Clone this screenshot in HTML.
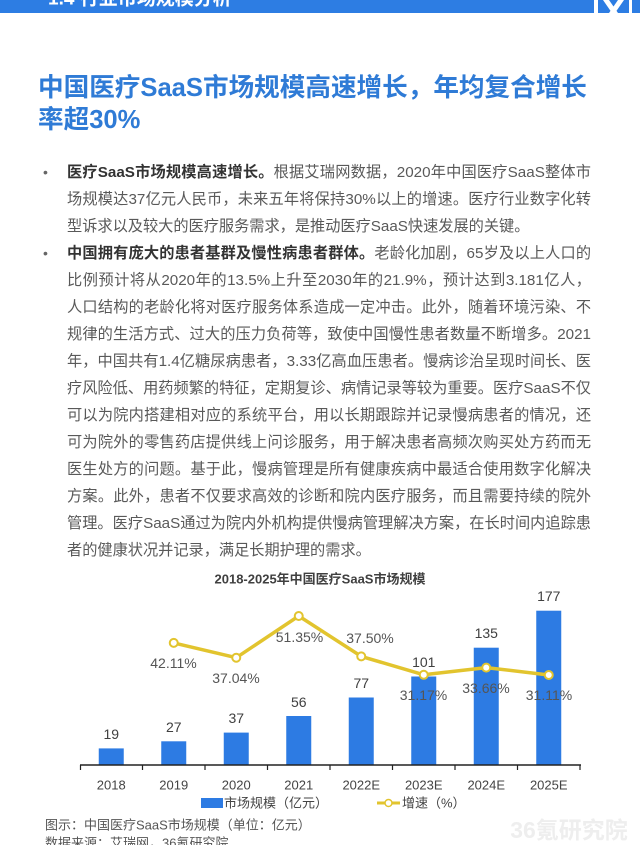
<!DOCTYPE html>
<html><head><meta charset="utf-8"><style>
html,body{margin:0;padding:0;background:#fff;}
body{width:640px;height:845px;position:relative;overflow:hidden;font-family:"Liberation Sans","Noto Sans CJK SC",sans-serif;}
.t{position:absolute;left:38px;font-size:25.6px;font-weight:bold;color:#2f7bd6;line-height:32px;white-space:nowrap;letter-spacing:0;}
.l{position:absolute;left:67px;width:524px;font-size:15.2px;line-height:27px;height:27px;color:#595959;text-align:justify;text-align-last:justify;}
.l.e{text-align-last:left;}
.l b{color:#333;}
.bu{position:absolute;left:43px;font-size:14px;line-height:27px;color:#666;}
svg{position:absolute;left:0;top:0;}
</style></head><body>
<div class="t" style="top:72px">中国医疗SaaS市场规模高速增长，年均复合增长</div>
<div class="t" style="top:104px">率超30%</div>

<div class="bu" style="top:158.5px">•</div>
<div class="bu" style="top:239.5px">•</div>

<div class="l" style="top:158.5px"><b>医疗SaaS市场规模高速增长。</b>根据艾瑞网数据，2020年中国医疗SaaS整体市</div>
<div class="l" style="top:185.5px">场规模达37亿元人民币，未来五年将保持30%以上的增速。医疗行业数字化转</div>
<div class="l e" style="top:212.5px">型诉求以及较大的医疗服务需求，是推动医疗SaaS快速发展的关键。</div>
<div class="l" style="top:239.5px"><b>中国拥有庞大的患者基群及慢性病患者群体。</b>老龄化加剧，65岁及以上人口的</div>
<div class="l" style="top:266.5px">比例预计将从2020年的13.5%上升至2030年的21.9%，预计达到3.181亿人，</div>
<div class="l" style="top:293.5px">人口结构的老龄化将对医疗服务体系造成一定冲击。此外，随着环境污染、不</div>
<div class="l" style="top:320.5px">规律的生活方式、过大的压力负荷等，致使中国慢性患者数量不断增多。2021</div>
<div class="l" style="top:347.5px">年，中国共有1.4亿糖尿病患者，3.33亿高血压患者。慢病诊治呈现时间长、医</div>
<div class="l" style="top:374.5px">疗风险低、用药频繁的特征，定期复诊、病情记录等较为重要。医疗SaaS不仅</div>
<div class="l" style="top:401.5px">可以为院内搭建相对应的系统平台，用以长期跟踪并记录慢病患者的情况，还</div>
<div class="l" style="top:428.5px">可为院外的零售药店提供线上问诊服务，用于解决患者高频次购买处方药而无</div>
<div class="l" style="top:455.5px">医生处方的问题。基于此，慢病管理是所有健康疾病中最适合使用数字化解决</div>
<div class="l" style="top:482.5px">方案。此外，患者不仅要求高效的诊断和院内医疗服务，而且需要持续的院外</div>
<div class="l" style="top:509.5px">管理。医疗SaaS通过为院内外机构提供慢病管理解决方案，在长时间内追踪患</div>
<div class="l e" style="top:536.5px">者的健康状况并记录，满足长期护理的需求。</div>

<svg width="640" height="845" viewBox="0 0 640 845" xmlns="http://www.w3.org/2000/svg" font-family="Liberation Sans, Noto Sans CJK SC, sans-serif">
  <rect x="0" y="0" width="594" height="13" fill="#2d7de3"/>
  <text x="48" y="-1" dominant-baseline="central" font-size="19" fill="#fff" font-weight="bold">1.4 行业市场规模分析</text>
  <rect x="598" y="0" width="42" height="13" fill="#2d7de3"/>
  <path d="M603 0 L609 0 L618 13 L612 13 Z M618 0 L624 0 L615 13 L609 13 Z" fill="#fff"/>
  <rect x="629" y="0" width="3" height="13" fill="#fff"/>

  <text x="320" y="579" text-anchor="middle" dominant-baseline="central" font-size="13" font-weight="bold" fill="#404040">2018-2025年中国医疗SaaS市场规模</text>

  <g fill="#2d7be3">
    <rect x="98.75" y="748.4" width="25" height="16.6"/>
    <rect x="161.25" y="741.3" width="25" height="23.7"/>
    <rect x="223.75" y="732.6" width="25" height="32.4"/>
    <rect x="286.25" y="716" width="25" height="49"/>
    <rect x="348.75" y="697.5" width="25" height="67.5"/>
    <rect x="411.25" y="676.5" width="25" height="88.5"/>
    <rect x="473.75" y="647.7" width="25" height="117.3"/>
    <rect x="536.25" y="610.7" width="25" height="154.3"/>
  </g>

  <line x1="80" y1="765" x2="581" y2="765" stroke="#222" stroke-width="1.5"/>
  <g stroke="#222" stroke-width="1.2">
    <line x1="80.5" y1="765" x2="80.5" y2="770"/>
    <line x1="142.5" y1="765" x2="142.5" y2="770"/>
    <line x1="205" y1="765" x2="205" y2="770"/>
    <line x1="267.5" y1="765" x2="267.5" y2="770"/>
    <line x1="330" y1="765" x2="330" y2="770"/>
    <line x1="392.5" y1="765" x2="392.5" y2="770"/>
    <line x1="455" y1="765" x2="455" y2="770"/>
    <line x1="517.5" y1="765" x2="517.5" y2="770"/>
    <line x1="580" y1="765" x2="580" y2="770"/>
  </g>

  <g font-size="14" fill="#404040" text-anchor="middle" dominant-baseline="central">
    <text x="111.25" y="734">19</text>
    <text x="173.75" y="727">27</text>
    <text x="236.25" y="718">37</text>
    <text x="298.75" y="702">56</text>
    <text x="361.25" y="683">77</text>
    <text x="423.75" y="662">101</text>
    <text x="486.25" y="633">135</text>
    <text x="548.75" y="596">177</text>
  </g>

  <polyline points="173.75,642.9 236.25,657.7 298.75,616 361.25,656.4 423.75,674.8 486.25,667.6 548.75,675" fill="none" stroke="#e2c42e" stroke-width="3.5" stroke-linejoin="round"/>
  <g fill="#fff" stroke="#e2c42e" stroke-width="2">
    <circle cx="173.75" cy="642.9" r="4"/>
    <circle cx="236.25" cy="657.7" r="4"/>
    <circle cx="298.75" cy="616" r="4"/>
    <circle cx="361.25" cy="656.4" r="4"/>
    <circle cx="423.75" cy="674.8" r="4"/>
    <circle cx="486.25" cy="667.6" r="4"/>
    <circle cx="548.75" cy="675" r="4"/>
  </g>

  <g font-size="14" fill="#555" text-anchor="middle" dominant-baseline="central">
    <text x="173.5" y="663">42.11%</text>
    <text x="236" y="678">37.04%</text>
    <text x="299.5" y="637">51.35%</text>
    <text x="370" y="638">37.50%</text>
    <text x="423.5" y="695">31.17%</text>
    <text x="486" y="688">33.66%</text>
    <text x="549" y="695">31.11%</text>
  </g>

  <g font-size="13" fill="#444" text-anchor="middle" dominant-baseline="central">
    <text x="111.25" y="785">2018</text>
    <text x="173.75" y="785">2019</text>
    <text x="236.25" y="785">2020</text>
    <text x="298.75" y="785">2021</text>
    <text x="361.25" y="785">2022E</text>
    <text x="423.75" y="785">2023E</text>
    <text x="486.25" y="785">2024E</text>
    <text x="548.75" y="785">2025E</text>
  </g>

  <rect x="201" y="798" width="22" height="10" fill="#2d7be3"/>
  <text x="224" y="803" dominant-baseline="central" font-size="13" fill="#444">市场规模（亿元）</text>
  <line x1="377" y1="803" x2="400" y2="803" stroke="#e2c42e" stroke-width="3"/>
  <circle cx="388.5" cy="803" r="3.5" fill="#fff" stroke="#e2c42e" stroke-width="1.5"/>
  <text x="402" y="803" dominant-baseline="central" font-size="13" fill="#444">增速（%）</text>

  <text x="45" y="825" dominant-baseline="central" font-size="13" fill="#555">图示：中国医疗SaaS市场规模（单位：亿元）</text>
  <text x="45" y="843" dominant-baseline="central" font-size="13" fill="#555">数据来源：艾瑞网，36氪研究院</text>

  <text x="569" y="830" text-anchor="middle" dominant-baseline="central" font-size="23" font-weight="bold" fill="#eeeeee">36氪研究院</text>
</svg>
</body></html>
